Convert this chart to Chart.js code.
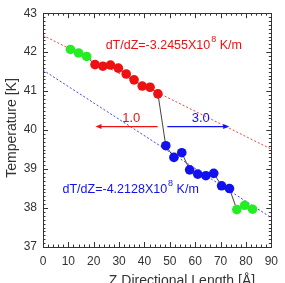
<!DOCTYPE html>
<html>
<head>
<meta charset="utf-8">
<script src="https://cdn.jsdelivr.net/npm/chart.js@4.4.0/dist/chart.umd.min.js"></script>
<style>
  html, body { margin: 0; padding: 0; background: #fff; }
  #temp_chart { display: block; }
</style>
</head>
<body>
<canvas id="temp_chart" width="285" height="283"></canvas>
<script>
// hot bath (green, top left)
const greenTopZ = [10.8, 14.0, 17.2]
const greenTopT = [42.07, 41.98, 41.89]
// red segment
const redZ = [20.5, 23.6, 26.6, 29.7, 32.8, 35.9, 39.1, 42.2, 45.3]
const redT = [41.68, 41.64, 41.67, 41.59, 41.44, 41.29, 41.13, 41.10, 40.93]
// blue segment
const blueZ = [48.4, 51.6, 54.7, 57.8, 61.0, 64.2, 67.3, 70.4, 73.5]
const blueT = [39.60, 39.30, 39.42, 38.98, 38.87, 38.83, 38.89, 38.57, 38.50]
// cold bath (green, bottom right)
const greenBotZ = [76.4, 79.5, 82.6]
const greenBotT = [37.96, 38.07, 37.97]

// linear fits (end points at the axis limits)
const fitZ = [0, 90]
const redFitT = [42.43, 39.51]
const blueFitT = [41.54, 37.75]

// arrows between the two segments
const redArrowZ = [45.2, 20.7]
const blueArrowZ = [49.0, 73.4]
const arrowT = [40.09, 40.09]

const xTickValues = [0, 10, 20, 30, 40, 50, 60, 70, 80, 90]
const yTickValues = [37, 38, 39, 40, 41, 42, 43]

const redFitLabel = ['dT/dZ=-3.2455X10', '8', ' K/m']
const blueFitLabel = ['dT/dZ=-4.2128X10', '8', ' K/m']
const redArrowLabel = '1.0'
const blueArrowLabel = '3.0'
const xTitle = 'Z Directional Length [\u00C5]'
const yTitle = 'Temperature [K]'

const FONT = '"Liberation Sans", Arial, sans-serif'
const RED = '#ee1111'
const BLUE = '#1111ee'
const GREEN = '#22ee22'

function toPoints(xs, ys) {
    return xs.map((x, i) => ({x: x, y: ys[i]}))
}

const app = {
    markerSet: function (xs, ys, color) {
        return {
            data: toPoints(xs, ys),
            showLine: false,
            pointRadius: 4.8,
            pointBackgroundColor: color,
            pointBorderColor: color,
            pointBorderWidth: 0,
            order: 1
        }
    },
    lineSet: function (xs, ys, color, dash, width) {
        return {
            data: toPoints(xs, ys),
            showLine: true,
            borderColor: color,
            borderWidth: width,
            borderDash: dash,
            pointRadius: 0,
            fill: false,
            order: 5
        }
    },
    drawSuper: function (ctx, parts, x, y, color) {
        ctx.save()
        ctx.fillStyle = color
        ctx.textBaseline = 'middle'
        ctx.textAlign = 'left'
        ctx.font = '12.5px ' + FONT
        ctx.fillText(parts[0], x, y)
        let w = ctx.measureText(parts[0]).width
        ctx.font = '9px ' + FONT
        ctx.fillText(parts[1], x + w + 1, y - 6)
        w += ctx.measureText(parts[1]).width + 1
        ctx.font = '12.5px ' + FONT
        ctx.fillText(parts[2], x + w, y)
        ctx.restore()
    },
    drawArrow: function (ctx, xs, ys, color, xScale, yScale) {
        const x0 = xScale.getPixelForValue(xs[0])
        const x1 = xScale.getPixelForValue(xs[1])
        const y0 = yScale.getPixelForValue(ys[0])
        const y1 = yScale.getPixelForValue(ys[1])
        const dir = x1 > x0 ? 1 : -1
        ctx.save()
        ctx.strokeStyle = color
        ctx.fillStyle = color
        ctx.lineWidth = 1.2
        ctx.beginPath()
        ctx.moveTo(x0, y0)
        ctx.lineTo(x1 - dir * 4, y1)
        ctx.stroke()
        ctx.beginPath()
        ctx.moveTo(x1, y1)
        ctx.lineTo(x1 - dir * 6, y1 - 2.5)
        ctx.lineTo(x1 - dir * 6, y1 + 2.5)
        ctx.closePath()
        ctx.fill()
        ctx.restore()
    }
}

const framePlugin = {
    id: 'frame',
    afterDatasetsDraw: function (chart) {
        const ctx = chart.ctx
        const xs = chart.scales.x
        const ys = chart.scales.y
        const a = chart.chartArea

        app.drawArrow(ctx, redArrowZ, arrowT, RED, xs, ys)
        app.drawArrow(ctx, blueArrowZ, arrowT, BLUE, xs, ys)

        ctx.save()
        ctx.font = '13px ' + FONT
        ctx.textAlign = 'center'
        ctx.textBaseline = 'middle'
        ctx.fillStyle = RED
        ctx.fillText(redArrowLabel, xs.getPixelForValue(34.8), ys.getPixelForValue(40.30))
        ctx.fillStyle = BLUE
        ctx.fillText(blueArrowLabel, xs.getPixelForValue(62.2), ys.getPixelForValue(40.30))
        ctx.restore()

        app.drawSuper(ctx, redFitLabel, xs.getPixelForValue(24.7), ys.getPixelForValue(42.18), RED)
        app.drawSuper(ctx, blueFitLabel, xs.getPixelForValue(7.7), ys.getPixelForValue(38.48), BLUE)

        // box and inward ticks
        ctx.save()
        ctx.strokeStyle = '#333'
        ctx.lineWidth = 1
        ctx.strokeRect(Math.round(a.left) + 0.5, Math.round(a.top) + 0.5,
            Math.round(a.right - a.left), Math.round(a.bottom - a.top))
        ctx.beginPath()
        for (let i = 0; i <= 45; i++) {
            const px = Math.round(xs.getPixelForValue(i * 2)) + 0.5
            const len = (i % 5 === 0) ? 5 : 2.5
            ctx.moveTo(px, a.bottom)
            ctx.lineTo(px, a.bottom - len)
            ctx.moveTo(px, a.top)
            ctx.lineTo(px, a.top + len)
        }
        for (let i = 0; i <= 60; i++) {
            const py = Math.round(ys.getPixelForValue(37 + i / 10)) + 0.5
            const len = (i % 10 === 0) ? 5 : 2.5
            ctx.moveTo(a.left, py)
            ctx.lineTo(a.left + len, py)
            ctx.moveTo(a.right, py)
            ctx.lineTo(a.right - len, py)
        }
        ctx.stroke()
        ctx.restore()

        // axis titles
        ctx.save()
        ctx.fillStyle = '#333'
        ctx.font = '14px ' + FONT
        ctx.textAlign = 'center'
        ctx.textBaseline = 'top'
        ctx.fillText(xTitle, 182, 274)
        ctx.translate(12, 128)
        ctx.rotate(-Math.PI / 2)
        ctx.textBaseline = 'middle'
        ctx.fillText(yTitle, 0, 0)
        ctx.restore()
    }
}

const allZ = greenTopZ.concat(redZ, blueZ, greenBotZ)
const allT = greenTopT.concat(redT, blueT, greenBotT)

new Chart(document.getElementById('temp_chart').getContext('2d'), {
    type: 'scatter',
    data: {
        datasets: [
            app.markerSet(greenTopZ, greenTopT, GREEN),
            app.markerSet(redZ, redT, RED),
            app.markerSet(blueZ, blueT, BLUE),
            app.markerSet(greenBotZ, greenBotT, GREEN),
            Object.assign(app.lineSet(allZ, allT, '#111', [], 0.8), {order: 3}),
            app.lineSet(fitZ, redFitT, RED, [2, 2], 0.8),
            app.lineSet(fitZ, blueFitT, BLUE, [2, 2], 0.8)
        ]
    },
    options: {
        responsive: false,
        animation: false,
        devicePixelRatio: 1,
        layout: {padding: {top: 9, right: 8, left: 0, bottom: 0}},
        plugins: {legend: {display: false}, tooltip: {enabled: false}},
        scales: {
            x: {
                type: 'linear',
                min: 0,
                max: 90,
                grid: {display: false, drawTicks: false},
                border: {display: false},
                afterBuildTicks: function (scale) {
                    scale.ticks = xTickValues.map(v => ({value: v}))
                },
                afterFit: function (scale) { scale.height = 36 },
                ticks: {
                    padding: 7,
                    maxRotation: 0,
                    color: '#333',
                    font: {family: FONT, size: 12}
                }
            },
            y: {
                type: 'linear',
                min: 37,
                max: 43,
                grid: {display: false, drawTicks: false},
                border: {display: false},
                afterBuildTicks: function (scale) {
                    scale.ticks = yTickValues.map(v => ({value: v}))
                },
                afterFit: function (scale) { scale.width = 43 },
                ticks: {
                    padding: 6,
                    color: '#333',
                    font: {family: FONT, size: 12}
                }
            }
        }
    },
    plugins: [framePlugin]
})
</script>
</body>
</html>
